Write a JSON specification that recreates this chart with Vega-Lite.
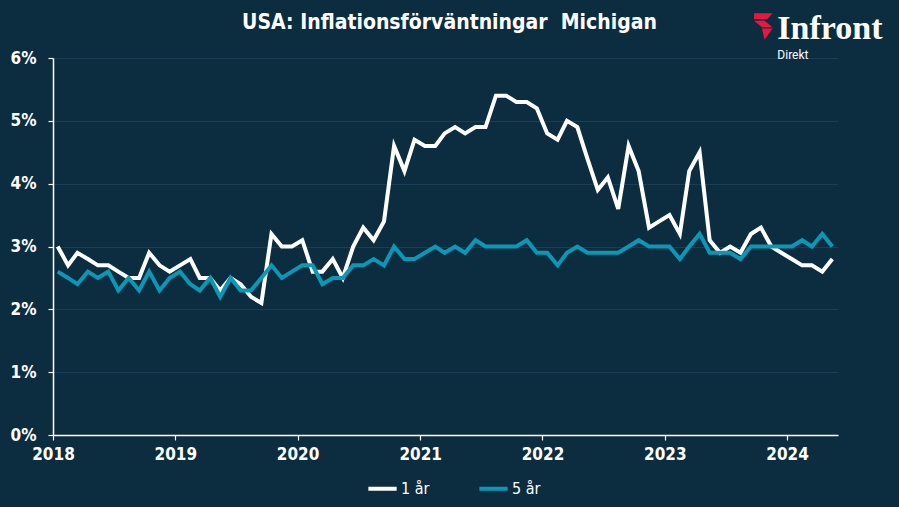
{
  "$schema": "https://vega.github.io/schema/vega-lite/v6.json",
  "width": 785,
  "height": 377,
  "autosize": {"type": "none"},
  "padding": {"left": 53, "top": 58, "right": 61, "bottom": 72},
  "background": "#0c2c40",
  "title": {
    "text": "USA: Inflationsförväntningar\u00a0\u00a0Michigan",
    "color": "white",
    "font": "DejaVu Sans Condensed, Roboto, sans-serif",
    "fontWeight": "bold",
    "fontSize": 21,
    "anchor": "middle",
    "frame": "group",
    "dx": 4,
    "offset": -21
  },
  "config": {
    "view": {"stroke": null},
    "axis": {
      "labelColor": "white",
      "labelFont": "DejaVu Sans Condensed, Roboto, sans-serif",
      "labelFontWeight": "bold",
      "labelFontSize": 17,
      "domainColor": "white",
      "domainWidth": 1.5,
      "tickColor": "white",
      "tickWidth": 1.2,
      "tickSize": 5,
      "title": null
    },
    "legend": {
      "labelColor": "white",
      "labelFont": "DejaVu Sans Condensed, Roboto, sans-serif",
      "labelFontSize": 16
    }
  },
  "datasets": {
    "mich": [
      {"d": "2018-01-15", "a1": 3.0, "a5": 2.6},
      {"d": "2018-02-15", "a1": 2.7, "a5": 2.5},
      {"d": "2018-03-15", "a1": 2.9, "a5": 2.4},
      {"d": "2018-04-15", "a1": 2.8, "a5": 2.6},
      {"d": "2018-05-15", "a1": 2.7, "a5": 2.5},
      {"d": "2018-06-15", "a1": 2.7, "a5": 2.6},
      {"d": "2018-07-15", "a1": 2.6, "a5": 2.3},
      {"d": "2018-08-15", "a1": 2.5, "a5": 2.5},
      {"d": "2018-09-15", "a1": 2.5, "a5": 2.3},
      {"d": "2018-10-15", "a1": 2.9, "a5": 2.6},
      {"d": "2018-11-15", "a1": 2.7, "a5": 2.3},
      {"d": "2018-12-15", "a1": 2.6, "a5": 2.5},
      {"d": "2019-01-15", "a1": 2.7, "a5": 2.6},
      {"d": "2019-02-15", "a1": 2.8, "a5": 2.4},
      {"d": "2019-03-15", "a1": 2.5, "a5": 2.3},
      {"d": "2019-04-15", "a1": 2.5, "a5": 2.5},
      {"d": "2019-05-15", "a1": 2.3, "a5": 2.2},
      {"d": "2019-06-15", "a1": 2.5, "a5": 2.5},
      {"d": "2019-07-15", "a1": 2.4, "a5": 2.3},
      {"d": "2019-08-15", "a1": 2.2, "a5": 2.3},
      {"d": "2019-09-15", "a1": 2.1, "a5": 2.5},
      {"d": "2019-10-15", "a1": 3.2, "a5": 2.7},
      {"d": "2019-11-15", "a1": 3.0, "a5": 2.5},
      {"d": "2019-12-15", "a1": 3.0, "a5": 2.6},
      {"d": "2020-01-15", "a1": 3.1, "a5": 2.7},
      {"d": "2020-02-15", "a1": 2.6, "a5": 2.7},
      {"d": "2020-03-15", "a1": 2.6, "a5": 2.4},
      {"d": "2020-04-15", "a1": 2.8, "a5": 2.5},
      {"d": "2020-05-15", "a1": 2.5, "a5": 2.5},
      {"d": "2020-06-15", "a1": 3.0, "a5": 2.7},
      {"d": "2020-07-15", "a1": 3.3, "a5": 2.7},
      {"d": "2020-08-15", "a1": 3.1, "a5": 2.8},
      {"d": "2020-09-15", "a1": 3.4, "a5": 2.7},
      {"d": "2020-10-15", "a1": 4.6, "a5": 3.0},
      {"d": "2020-11-15", "a1": 4.2, "a5": 2.8},
      {"d": "2020-12-15", "a1": 4.7, "a5": 2.8},
      {"d": "2021-01-15", "a1": 4.6, "a5": 2.9},
      {"d": "2021-02-15", "a1": 4.6, "a5": 3.0},
      {"d": "2021-03-15", "a1": 4.8, "a5": 2.9},
      {"d": "2021-04-15", "a1": 4.9, "a5": 3.0},
      {"d": "2021-05-15", "a1": 4.8, "a5": 2.9},
      {"d": "2021-06-15", "a1": 4.9, "a5": 3.1},
      {"d": "2021-07-15", "a1": 4.9, "a5": 3.0},
      {"d": "2021-08-15", "a1": 5.4, "a5": 3.0},
      {"d": "2021-09-15", "a1": 5.4, "a5": 3.0},
      {"d": "2021-10-15", "a1": 5.3, "a5": 3.0},
      {"d": "2021-11-15", "a1": 5.3, "a5": 3.1},
      {"d": "2021-12-15", "a1": 5.2, "a5": 2.9},
      {"d": "2022-01-15", "a1": 4.8, "a5": 2.9},
      {"d": "2022-02-15", "a1": 4.7, "a5": 2.7},
      {"d": "2022-03-15", "a1": 5.0, "a5": 2.9},
      {"d": "2022-04-15", "a1": 4.9, "a5": 3.0},
      {"d": "2022-05-15", "a1": 4.4, "a5": 2.9},
      {"d": "2022-06-15", "a1": 3.9, "a5": 2.9},
      {"d": "2022-07-15", "a1": 4.1, "a5": 2.9},
      {"d": "2022-08-15", "a1": 3.6, "a5": 2.9},
      {"d": "2022-09-15", "a1": 4.6, "a5": 3.0},
      {"d": "2022-10-15", "a1": 4.2, "a5": 3.1},
      {"d": "2022-11-15", "a1": 3.3, "a5": 3.0},
      {"d": "2022-12-15", "a1": 3.4, "a5": 3.0},
      {"d": "2023-01-15", "a1": 3.5, "a5": 3.0},
      {"d": "2023-02-15", "a1": 3.2, "a5": 2.8},
      {"d": "2023-03-15", "a1": 4.2, "a5": 3.0},
      {"d": "2023-04-15", "a1": 4.5, "a5": 3.2},
      {"d": "2023-05-15", "a1": 3.1, "a5": 2.9},
      {"d": "2023-06-15", "a1": 2.9, "a5": 2.9},
      {"d": "2023-07-15", "a1": 3.0, "a5": 2.9},
      {"d": "2023-08-15", "a1": 2.9, "a5": 2.8},
      {"d": "2023-09-15", "a1": 3.2, "a5": 3.0},
      {"d": "2023-10-15", "a1": 3.3, "a5": 3.0},
      {"d": "2023-11-15", "a1": 3.0, "a5": 3.0},
      {"d": "2023-12-15", "a1": 2.9, "a5": 3.0},
      {"d": "2024-01-15", "a1": 2.8, "a5": 3.0},
      {"d": "2024-02-15", "a1": 2.7, "a5": 3.1},
      {"d": "2024-03-15", "a1": 2.7, "a5": 3.0},
      {"d": "2024-04-15", "a1": 2.6, "a5": 3.2},
      {"d": "2024-05-15", "a1": 2.8, "a5": 3.0}
    ]
  },
  "layer": [
    {
      "data": {"name": "mich"},
      "transform": [
        {"fold": ["a1", "a5"], "as": ["key", "value"]},
        {"lookup": "key", "from": {"data": {"values": [{"key": "a1", "serie": "1 år"}, {"key": "a5", "serie": "5 år"}]}, "key": "key", "fields": ["serie"]}}
      ],
      "mark": {"type": "line", "strokeWidth": 4, "strokeJoin": "miter", "clip": false},
      "encoding": {
        "x": {
          "field": "d",
          "type": "temporal",
          "scale": {"domain": [{"year": 2018, "month": 1, "date": 1}, {"year": 2024, "month": 6, "date": 1}]},
          "axis": {
            "format": "%Y",
            "tickCount": {"interval": "year", "step": 1},
            "grid": false,
            "labelPadding": 6,
            "labelFlush": false
          }
        },
        "y": {
          "field": "value",
          "type": "quantitative",
          "scale": {"domain": [0, 6], "nice": false},
          "axis": {
            "values": [0, 1, 2, 3, 4, 5, 6],
            "labelExpr": "datum.value + '%'",
            "grid": true,
            "gridColor": "#1b3e54",
            "gridWidth": 1,
            "labelPadding": 12
          }
        },
        "color": {
          "field": "serie",
          "type": "nominal",
          "scale": {"domain": ["1 år", "5 år"], "range": ["#ffffff", "#0a98b6"]},
          "legend": {
            "title": null,
            "orient": "none",
            "direction": "horizontal",
            "legendX": 313,
            "legendY": 414,
            "symbolType": "stroke",
            "symbolStrokeWidth": 4,
            "symbolSize": 800,
            "labelOffset": 2,
            "columnPadding": 41
          }
        }
      }
    },
    {
      "data": {"values": [{}]},
      "mark": {"type": "point", "filled": true, "color": "#e8173f", "opacity": 1, "size": 700, "strokeWidth": 0,
        "shape": "M-0.7,-1 L0.7,-1 L0.3,-0.55 L-0.7,-0.55 Z M-0.7,-0.45 L0.1,-0.45 L0.7,0.05 L-0.1,0.05 Z M-0.1,0.15 L0.7,0.15 L0.1,1 Z"},
      "encoding": {
        "x": {"datum": {"year": 2023, "month": 10, "date": 22}, "type": "temporal"},
        "y": {"datum": 6.5, "type": "quantitative"}
      }
    },
    {
      "data": {"values": [{}]},
      "mark": {"type": "text", "text": "Infront", "font": "Liberation Serif", "fontWeight": "bold", "fontSize": 34, "color": "white", "align": "left", "baseline": "alphabetic"},
      "encoding": {
        "x": {"datum": {"year": 2023, "month": 12, "date": 3}, "type": "temporal"},
        "y": {"datum": 6.31, "type": "quantitative"}
      }
    },
    {
      "data": {"values": [{}]},
      "mark": {"type": "text", "text": "Direkt", "font": "Roboto", "fontSize": 12, "color": "white", "align": "left", "baseline": "alphabetic"},
      "encoding": {
        "x": {"datum": {"year": 2023, "month": 12, "date": 3}, "type": "temporal"},
        "y": {"datum": 5.98, "type": "quantitative"}
      }
    }
  ]
}
